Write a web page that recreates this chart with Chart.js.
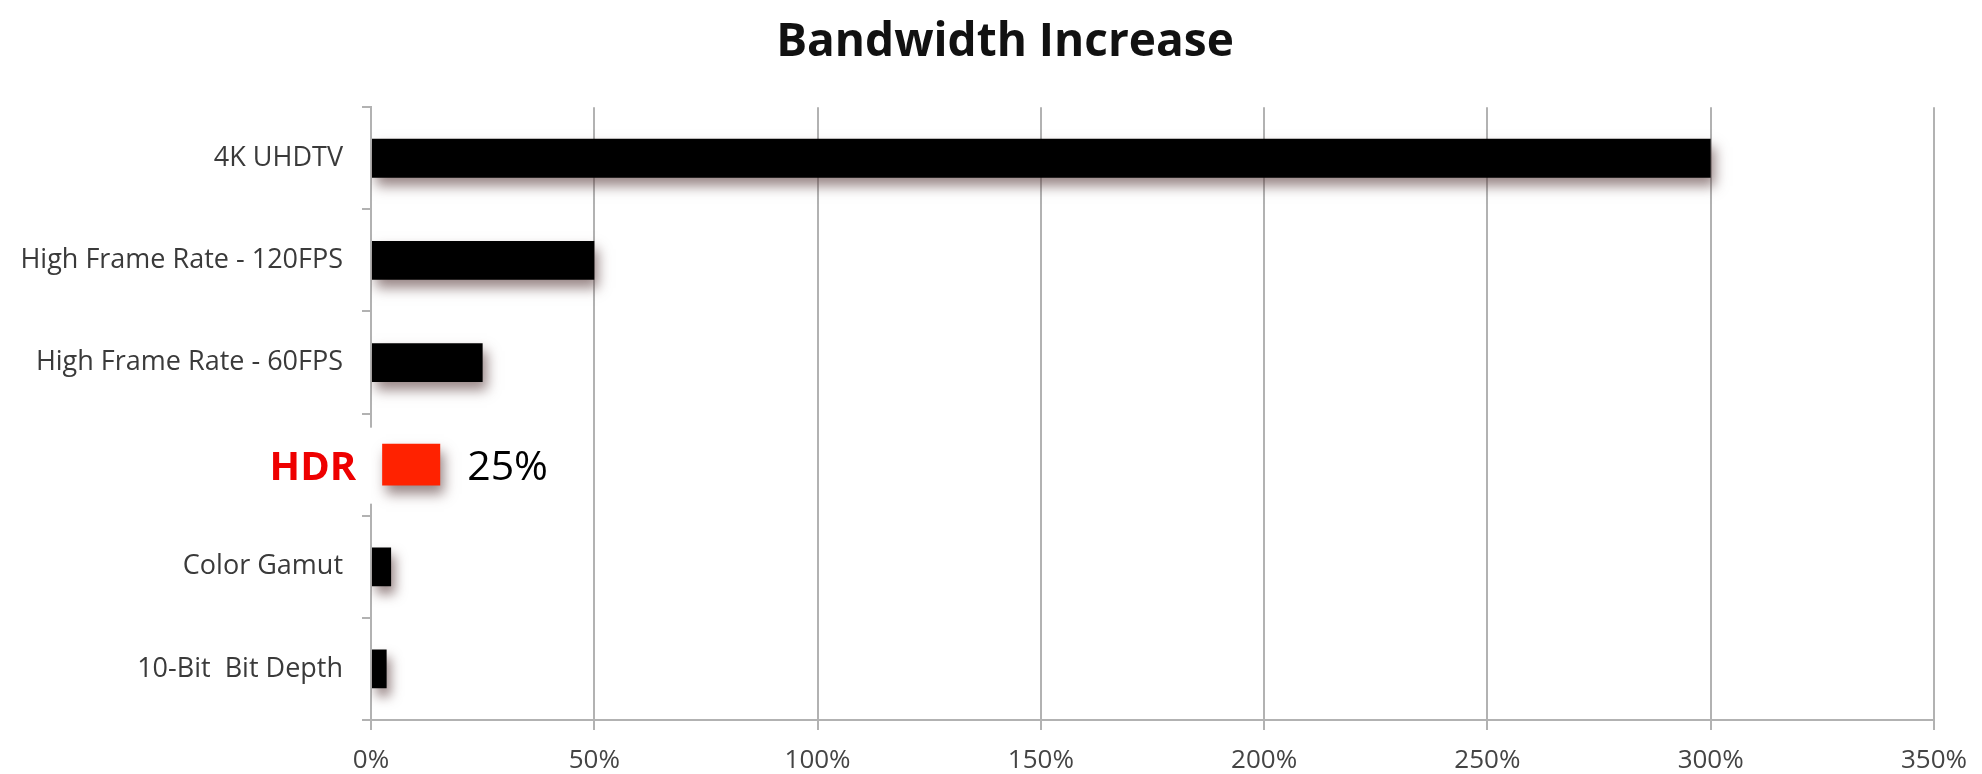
<!DOCTYPE html>
<html>
<head>
<meta charset="utf-8">
<script src="https://cdn.jsdelivr.net/npm/chart.js@4"></script>
<style>
  html, body { margin: 0; padding: 0; background: #fff; }
  #wrap { width: 1982px; height: 774px; }
</style>
</head>
<body>
<div id="wrap"><canvas id="myChart"></canvas></div>
<script>
const categories = ["4K UHDTV", "High Frame Rate - 120FPS", "High Frame Rate - 60FPS", "HDR", "Color Gamut", "10-Bit  Bit Depth"];
const increaseValues = [300, 50, 25, null, 4.5, 3.5]; // % bandwidth increase
const hdrBar = [null, null, null, [2.5, 15.5], null, null]; // the pasted red HDR bar
const hdrText = "25%";
const xMin = 0;
const xMax = 350;
const xStep = 50;

const gridColor = "#b2b2b2";

// white patch + drop shadow under the bars
const shadowPlugin = {
  id: "shadow",
  afterLayout(chart) {
    // title sits a bit right of the canvas centre in the original
    chart.titleBlock.left += 70;
  },
  beforeDatasetsDraw(chart) {
    const ctx = chart.ctx;
    const x = chart.scales.x;
    const y = chart.scales.y;
    const hdrIndex = categories.indexOf("HDR");
    const yc = y.getPixelForValue(hdrIndex);
    ctx.save();
    ctx.fillStyle = "#fff";
    ctx.fillRect(0, yc - 37, x.getPixelForValue(hdrBar[hdrIndex][0]), 76);
    ctx.restore();

    ctx.save();
    ctx.shadowColor = "rgba(85, 55, 55, 0.6)";
    ctx.shadowBlur = 12;
    ctx.shadowOffsetX = 4;
    ctx.shadowOffsetY = 8;
  },
  afterDatasetsDraw(chart) {
    chart.ctx.restore();
  },
};

// "HDR" and "25%" texts next to the red bar
const hdrLabelPlugin = {
  id: "hdrLabel",
  afterDatasetsDraw(chart) {
    const ctx = chart.ctx;
    const x = chart.scales.x;
    const y = chart.scales.y;
    const hdrIndex = categories.indexOf("HDR");
    const yc = y.getPixelForValue(hdrIndex);
    const [from, to] = hdrBar[hdrIndex];
    ctx.save();
    ctx.textBaseline = "middle";
    ctx.font = "bold 40px 'Open Sans'";
    ctx.fillStyle = "#ee0000";
    ctx.textAlign = "right";
    ctx.fillText("HDR", x.getPixelForValue(from) - 26, yc + 4);
    ctx.font = "41px 'Open Sans'";
    ctx.fillStyle = "#000";
    ctx.textAlign = "left";
    ctx.fillText(hdrText, x.getPixelForValue(to) + 27, yc + 4);
    ctx.restore();
  },
};

const cfg = {
  type: "bar",
  data: {
    labels: categories,
    datasets: [
      {
        label: "Bandwidth Increase",
        data: increaseValues,
        backgroundColor: "#000",
        barPercentage: 0.38,
        categoryPercentage: 1,
        grouped: false,
      },
      {
        label: "HDR",
        data: hdrBar,
        backgroundColor: "#ff2200",
        barPercentage: 0.41,
        categoryPercentage: 1,
        grouped: false,
      },
    ],
  },
  options: {
    indexAxis: "y",
    responsive: true,
    maintainAspectRatio: false,
    animation: false,
    layout: { padding: { top: 0, right: 42, bottom: 0, left: 0 } },
    plugins: {
      legend: { display: false },
      tooltip: { enabled: false },
      title: {
        display: true,
        text: "Bandwidth Increase",
        color: "#111",
        font: { family: "'Open Sans'", size: 46, weight: "bold" },
        padding: { top: 15, bottom: 37 },
      },
    },
    scales: {
      x: {
        min: xMin,
        max: xMax,
        ticks: {
          stepSize: xStep,
          callback: (v) => v + "%",
          color: "#444",
          font: { family: "'Open Sans'", size: 26 },
          padding: 15,
        },
        grid: { color: gridColor, lineWidth: 2, tickLength: 10 },
        border: { color: gridColor, width: 2 },
        afterFit: (scale) => {
          scale.height = 54;
        },
      },
      y: {
        ticks: {
          callback: (v, i) => (categories[i] === "HDR" ? "" : categories[i]),
          color: "#3a3a3a",
          font: { family: "'Open Sans'", size: 27 },
          padding: 19,
        },
        grid: {
          offset: true,
          drawOnChartArea: false,
          drawTicks: true,
          tickLength: 9,
          color: gridColor,
          lineWidth: 2,
        },
        border: { color: gridColor, width: 2 },
        afterFit: (scale) => {
          scale.width = 371;
        },
      },
    },
  },
  plugins: [shadowPlugin, hdrLabelPlugin],
};

new Chart(document.getElementById("myChart"), cfg);
</script>
</body>
</html>
